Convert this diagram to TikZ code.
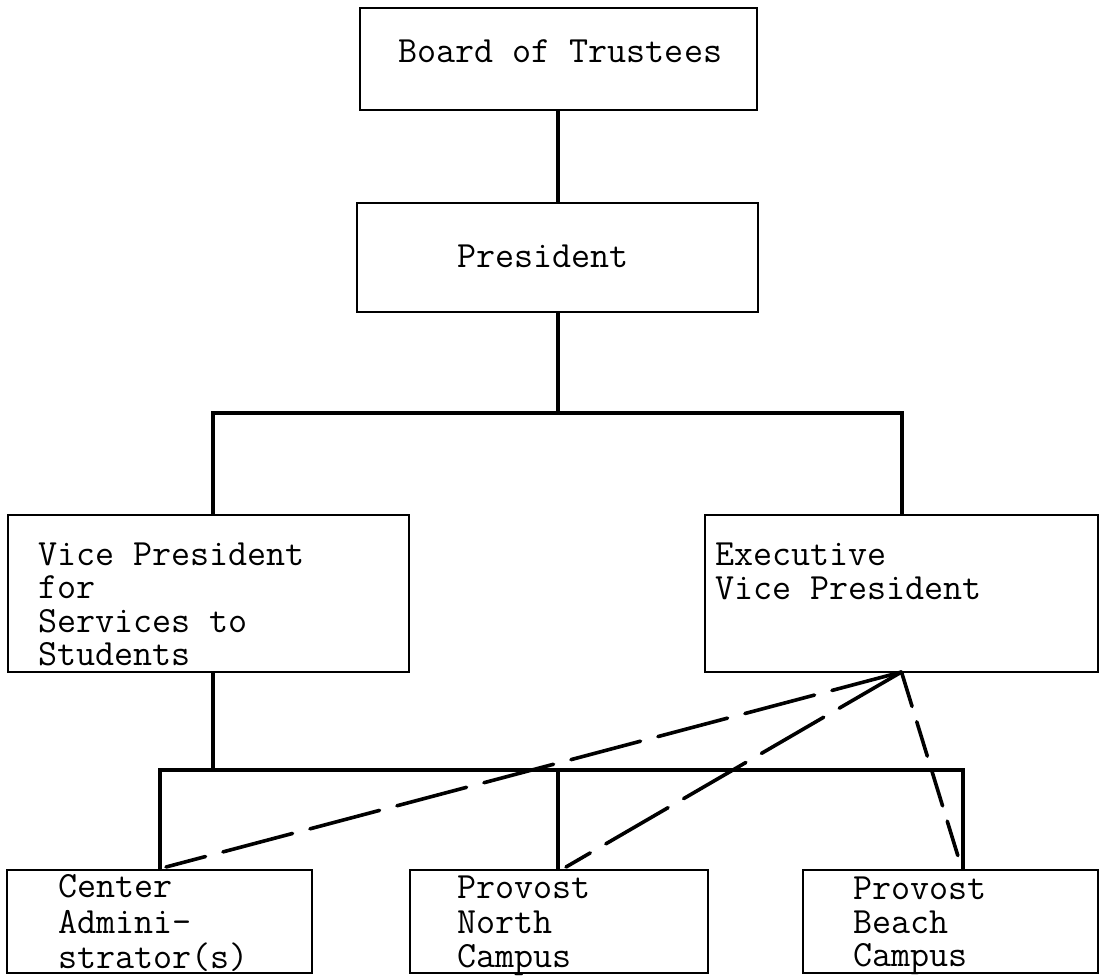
\documentclass[tikz,border=0pt]{standalone}
\usepackage{fontspec}
\begin{document}
\begin{tikzpicture}[x=1pt,y=-1pt,
  box/.style={draw, line width=2.9pt, rectangle, inner sep=0pt, outer sep=0pt},
  lbl/.style={anchor=base west, inner sep=0pt, text height=21pt, text depth=5pt,
    font=\ttfamily\fontsize{37}{40}\selectfont},
  link/.style={line width=3.3pt},
  dashlink/.style={line width=3.6pt, dash pattern=on 72pt off 18pt, line cap=round},
  dashshort/.style={line width=3.6pt, dash pattern=on 36pt off 16pt, line cap=round}]
\useasboundingbox (0,0) rectangle (1102,976);
\fill[white] (0,0) rectangle (1102,976);

% boxes
\node[box, minimum width=397pt, minimum height=102pt] (bot)  at (558.5,59) {};
\node[box, minimum width=401pt, minimum height=109pt] (pres) at (557.5,257.5) {};
\node[box, minimum width=401pt, minimum height=157pt] (vp)   at (208.5,593.5) {};
\node[box, minimum width=393pt, minimum height=157pt] (exec) at (901.5,593.5) {};
\node[box, minimum width=305pt, minimum height=103pt] (cen)  at (159.5,921.5) {};
\node[box, minimum width=298pt, minimum height=103pt] (nor)  at (559,921.5) {};
\node[box, minimum width=295pt, minimum height=103pt] (bea)  at (950.5,921.5) {};

% texts
\node[lbl] (tbot) at (398,63) {Board of Trustees};
\node[lbl] (tpres) at (457,267) {President};
\node[lbl] (tvp1) at (38,565) {Vice President};
\node[lbl] (tvp2) at (38,598) {for};
\node[lbl] (tvp3) at (38,632) {Services to};
\node[lbl] (tvp4) at (38,665) {Students};
\node[lbl] (tex1) at (715,565) {Executive};
\node[lbl] (tex2) at (715,599) {Vice President};
\node[lbl] (tcen1) at (58,897) {Center};
\node[lbl] (tcen2) at (58,933) {Admini-};
\node[lbl] (tcen3) at (58,968) {strator(s)};
\node[lbl] (tnor1) at (457,898) {Provost};
\node[lbl] (tnor2) at (457,933) {North};
\node[lbl] (tnor3) at (457,967) {Campus};
\node[lbl] (tbea1) at (853,899) {Provost};
\node[lbl] (tbea2) at (853,933) {Beach};
\node[lbl] (tbea3) at (853,966) {Campus};

% bus coordinates
\coordinate (ubM) at (558,413);
\coordinate (ubL) at (213,413);
\coordinate (ubR) at (902,413);
\coordinate (lbV) at (213,770);
\coordinate (lbL) at (160,770);
\coordinate (lbM) at (558,770);
\coordinate (lbR) at (963,770);
\coordinate (dC) at (166,867);
\coordinate (dN) at (566,867);
\coordinate (dB) at (961,866);

% solid connectors
\draw[link] (bot.south -| ubM) -- (pres.north -| ubM);
\draw[link] (pres.south -| ubM) -- (ubM);
\draw[link] (vp.north -| ubL) -- (ubL) -- (ubR) -- (exec.north -| ubR);
\draw[link] (vp.south -| lbV) -- (lbV);
\draw[link] (cen.north -| lbL) -- (lbL) -- (lbR) -- (bea.north -| lbR);
\draw[link] (lbM) -- (nor.north -| lbM);

% dashed connectors
\draw[dashlink] (exec.south) -- (dC);
\draw[dashlink] (exec.south) -- (dN);
\draw[dashshort] (exec.south) -- (dB);
\end{tikzpicture}
\end{document}
